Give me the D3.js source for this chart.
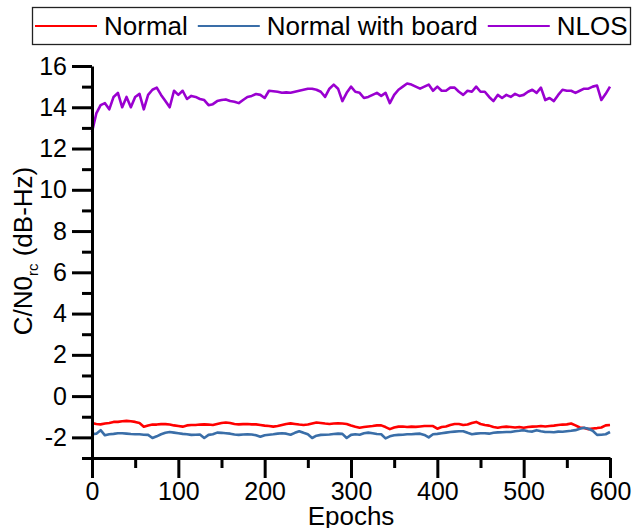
<!DOCTYPE html>
<html>
<head>
<meta charset="utf-8">
<script src="https://cdnjs.cloudflare.com/ajax/libs/d3/7.8.5/d3.min.js"></script>
<style>
  body { margin: 0; background: #fff; }
  svg { display: block; font-family: "Liberation Sans", Arial, sans-serif; }
</style>
</head>
<body>
<svg id="chart" width="633" height="528"></svg>
<script>
// epochs sampled every 5
const epochs = d3.range(0, 601, 5);

const normal = [
  -1.3, -1.35, -1.37, -1.33, -1.3, -1.25, -1.25, -1.22, -1.2, -1.22,
  -1.25, -1.3, -1.48, -1.42, -1.38, -1.38, -1.36, -1.36, -1.38, -1.42,
  -1.45, -1.48, -1.42, -1.4, -1.4, -1.38, -1.37, -1.38, -1.4, -1.35,
  -1.3, -1.28, -1.3, -1.35, -1.37, -1.36, -1.35, -1.37, -1.37, -1.4,
  -1.43, -1.45, -1.48, -1.45, -1.4, -1.35, -1.32, -1.35, -1.38, -1.4,
  -1.38, -1.33, -1.28, -1.3, -1.33, -1.35, -1.33, -1.32, -1.33, -1.35,
  -1.42, -1.48, -1.53, -1.5, -1.47, -1.45, -1.42, -1.42, -1.5, -1.6,
  -1.52, -1.48, -1.47, -1.5, -1.48, -1.49, -1.47, -1.45, -1.45, -1.45,
  -1.58, -1.5, -1.47, -1.4, -1.35, -1.35, -1.4, -1.38, -1.3, -1.25,
  -1.35, -1.4, -1.43, -1.5, -1.53, -1.5, -1.48, -1.5, -1.52, -1.5,
  -1.53, -1.5, -1.48, -1.47, -1.45, -1.47, -1.45, -1.43, -1.4, -1.38,
  -1.37, -1.33, -1.42, -1.52, -1.55, -1.6, -1.57, -1.55, -1.52, -1.42,
  -1.4
];

const withBoard = [
  -1.85, -1.82, -1.65, -1.9, -1.85, -1.83, -1.8, -1.8, -1.82, -1.84,
  -1.85, -1.85, -1.87, -1.88, -2.03, -1.95, -1.85, -1.78, -1.74, -1.77,
  -1.8, -1.83, -1.85, -1.88, -1.87, -1.86, -2.03, -1.88, -1.85, -1.77,
  -1.78, -1.8, -1.82, -1.86, -1.88, -1.86, -1.85, -1.86, -1.9, -1.97,
  -1.9, -1.87, -1.85, -1.82, -1.8, -1.82, -1.87, -1.78, -1.7, -1.78,
  -1.85, -2.03, -1.92, -1.88, -1.87, -1.86, -1.84, -1.82, -1.83, -2.03,
  -1.88, -1.85, -1.87, -1.8, -1.77, -1.8, -1.84, -1.85, -2.05, -1.95,
  -1.9, -1.88, -1.87, -1.85, -1.85, -1.83, -1.82, -1.88, -2.0, -1.85,
  -1.83, -1.8, -1.77, -1.74, -1.72, -1.7, -1.7, -1.78, -1.85, -1.82,
  -1.8, -1.8, -1.82, -1.78, -1.76, -1.75, -1.74, -1.74, -1.7, -1.68,
  -1.65, -1.7, -1.72, -1.65, -1.7, -1.74, -1.74, -1.75, -1.72, -1.73,
  -1.7, -1.68, -1.65, -1.58, -1.53, -1.58, -1.68, -1.88, -1.87, -1.85,
  -1.74
];

const nlos = [
  12.8, 13.7, 14.1, 14.2, 13.9, 14.5, 14.7, 14.0, 14.5, 14.0,
  14.5, 14.65, 13.9, 14.6, 14.85, 14.95, 14.6, 14.3, 14.0, 14.8,
  14.6, 14.8, 14.4, 14.55, 14.5, 14.4, 14.35, 14.1, 14.15, 14.3,
  14.35, 14.38, 14.3, 14.27, 14.2, 14.35, 14.5, 14.55, 14.64, 14.6,
  14.45, 14.8, 14.78, 14.75, 14.7, 14.72, 14.7, 14.75, 14.8, 14.85,
  14.9, 14.9, 14.85, 14.75, 14.5, 14.9, 15.1, 14.9, 14.3, 14.7,
  15.0, 14.75, 14.7, 14.45, 14.5, 14.6, 14.7, 14.55, 14.7, 14.2,
  14.6, 14.85, 15.0, 15.15, 15.1, 15.0, 14.9, 15.0, 15.1, 14.8,
  15.0, 14.8, 14.8, 14.95, 14.95, 14.75, 14.6, 14.8, 14.75, 15.0,
  14.75, 14.75, 14.5, 14.3, 14.6, 14.45, 14.6, 14.5, 14.65, 14.55,
  14.6, 14.75, 14.85, 14.7, 14.95, 14.35, 14.45, 14.3, 14.6, 14.85,
  14.8, 14.8, 14.7, 14.8, 14.9, 14.9, 15.0, 15.05, 14.35, 14.65,
  15.0
];

const seriesNames = ["Normal", "Normal with board", "NLOS"];
const seriesColors = ["#ff0000", "#3a6ea8", "#9a00d0"];
const seriesValues = [normal, withBoard, nlos];

const xMajorTicks = d3.range(0, 601, 100);
const xMinorTicks = d3.range(50, 600, 100);
const yMajorTicks = d3.range(-2, 17, 2);
const yMinorTicks = d3.range(-3, 17, 2);

const svg = d3.select("#chart");

const x = d3.scaleLinear().domain([0, 600]).range([92, 610]);
const y = d3.scaleLinear().domain([-3, 16]).range([458, 66]);

// lines
const line = d3.line()
  .x((d, i) => x(epochs[i]))
  .y(d => y(d));

seriesValues.forEach((vals, i) => {
  svg.append("path")
    .datum(vals)
    .attr("fill", "none")
    .attr("stroke", seriesColors[i])
    .attr("stroke-width", 2.6)
    .attr("stroke-linejoin", "round")
    .attr("d", line);
});

// axes
function styleAxis(g) {
  g.selectAll("path, line").attr("stroke", "#000").attr("stroke-width", 3);
  g.selectAll("text").attr("font-size", 25).attr("fill", "#000")
    .attr("font-family", "'Liberation Sans', Arial, sans-serif");
}

svg.append("g")
  .attr("transform", `translate(0,${y(-3)})`)
  .call(d3.axisBottom(x).tickValues(xMinorTicks).tickSize(10).tickFormat(""))
  .call(g => g.select(".domain").remove())
  .call(styleAxis);

svg.append("g")
  .attr("transform", `translate(0,${y(-3)})`)
  .call(d3.axisBottom(x).tickValues(xMajorTicks).tickSize(20).tickSizeOuter(0).tickPadding(4))
  .call(styleAxis);

svg.append("g")
  .attr("transform", `translate(${x(0)},0)`)
  .call(d3.axisLeft(y).tickValues(yMinorTicks).tickSize(10).tickFormat(""))
  .call(g => g.select(".domain").remove())
  .call(styleAxis);

svg.append("g")
  .attr("transform", `translate(${x(0)},0)`)
  .call(d3.axisLeft(y).tickValues(yMajorTicks).tickSize(20).tickSizeOuter(0)
    .tickPadding(5).tickFormat(d => String(d)))
  .call(styleAxis);

// axis titles
svg.append("text")
  .attr("x", (x(0) + x(600)) / 2)
  .attr("y", 525)
  .attr("text-anchor", "middle")
  .attr("font-size", 26)
  .text("Epochs");

const yTitle = svg.append("text")
  .attr("transform", "translate(32,251) rotate(-90)")
  .attr("text-anchor", "middle")
  .attr("font-size", 26);
yTitle.append("tspan").text("C/N0");
yTitle.append("tspan").attr("font-size", 15).attr("dy", 6).text("rc");
yTitle.append("tspan").attr("dy", -6).text(" (dB-Hz)");

// legend
const legend = svg.append("g");
legend.append("rect")
  .attr("x", 32.5).attr("y", 7.5)
  .attr("width", 598).attr("height", 37)
  .attr("fill", "#fff")
  .attr("stroke", "#222")
  .attr("stroke-width", 1.3);

let lx = 35;
seriesNames.forEach((name, i) => {
  legend.append("line")
    .attr("x1", lx).attr("x2", lx + 62)
    .attr("y1", 26).attr("y2", 26)
    .attr("stroke", seriesColors[i])
    .attr("stroke-width", 2);
  const t = legend.append("text")
    .attr("x", lx + 69)
    .attr("y", 35)
    .attr("font-size", 26)
    .text(name);
  lx = lx + 69 + t.node().getComputedTextLength() + 10;
});
</script>
</body>
</html>
